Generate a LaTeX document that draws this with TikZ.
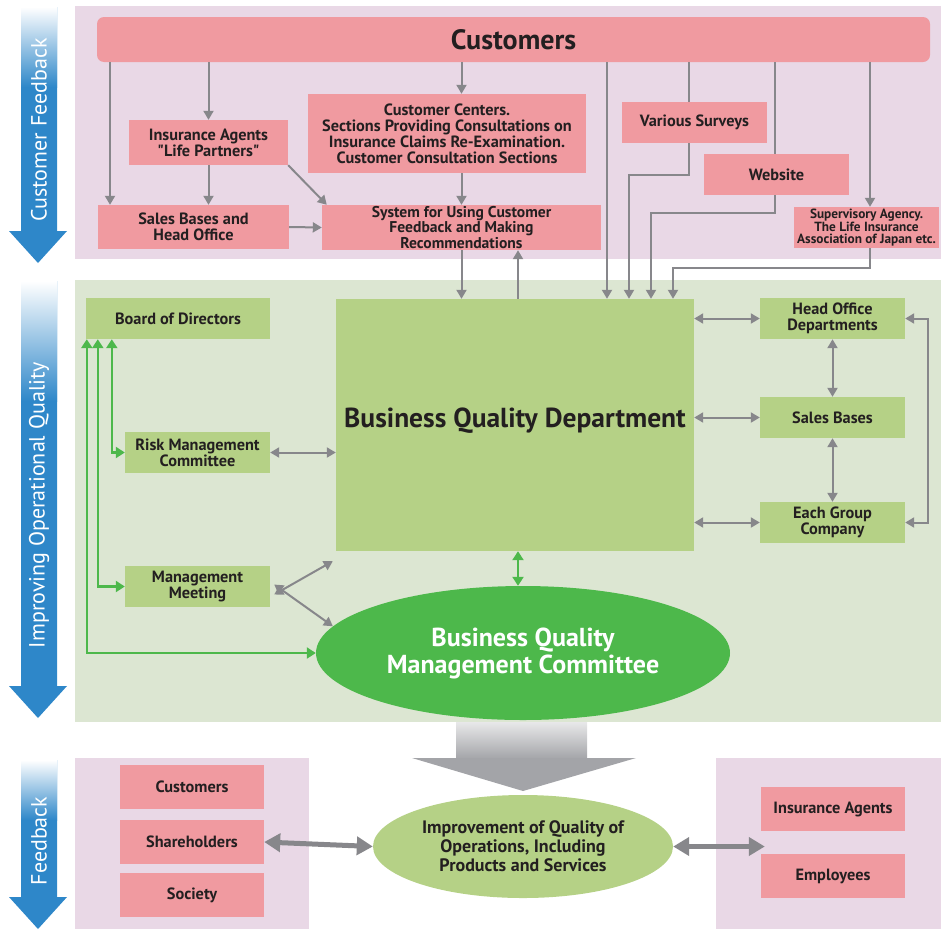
\documentclass[tikz,border=0pt]{standalone}
\usepackage{fontspec}
\setmainfont{PT Sans}
\usetikzlibrary{arrows.meta,calc,shapes.geometric}
\definecolor{cardpink}{RGB}{240,154,160}
\definecolor{bgpink}{RGB}{233,216,230}
\definecolor{bggreen}{RGB}{220,230,210}
\definecolor{cardgreen}{RGB}{181,209,134}
\definecolor{deepgreen}{RGB}{77,184,75}
\definecolor{flowgray}{RGB}{135,135,139}
\definecolor{headgray}{RGB}{163,164,168}
\definecolor{phaseblue}{RGB}{46,135,201}
\definecolor{inktext}{RGB}{35,31,32}
\tikzset{
  card/.style={
    inner sep=0pt,
    text=inktext,
    align=center,
    font=\bfseries\fontsize{16.3}{16}\selectfont
  },
  card-pink/.style={card, fill=cardpink},
  card-green/.style={card, fill=cardgreen},
  flow/.style={draw=flowgray, line width=2pt},
  flow-to/.style={flow, -{Triangle[width=10pt,length=9pt]}},
  flow-both/.style={flow,
    {Triangle[width=10pt,length=9pt]}-{Triangle[width=10pt,length=9pt]}},
  report-both/.style={draw=deepgreen, line width=2.4pt,
    {Triangle[width=11pt,length=9pt]}-{Triangle[width=11pt,length=9pt]}},
  link-both/.style={draw=flowgray, line width=5pt,
    {Triangle[width=18pt,length=16pt]}-{Triangle[width=18pt,length=16pt]}},
  phase/.style={text=white, rotate=90, font=\fontsize{22}{22}\selectfont}
}
\newcommand{\phasearrow}[3]{%
  \fill[phaseblue] (21,#1) -- (57,#1) -- (57,#2-32) -- (67,#2-32)
    -- (38,#2) -- (9,#2-32) -- (21,#2-32) -- cycle;
  \shade[top color=white, bottom color=phaseblue] (21,#1) rectangle (57,#1+#3);
}

\begin{document}
\begin{tikzpicture}[x=1pt, y=-1pt]
  \useasboundingbox (0,0) rectangle (941,929);
  \fill[bgpink] (75,6) rectangle (941,259);
  \fill[bggreen] (75,280) rectangle (941,722);
  \fill[bgpink] (75,758) rectangle (309,929);
  \fill[bgpink] (716,758) rectangle (941,929);

  \phasearrow{7}{263}{80}
  \phasearrow{281}{718}{120}
  \phasearrow{760}{929}{60}
  \node[phase] (phase-feedback) at (39,130) {Customer Feedback};
  \node[phase] (phase-quality) at (39,505) {Improving Operational Quality};
  \node[phase] (phase-return) at (39,841) {Feedback};

  % voices of the customer
  \node[card-pink, rounded corners=7, minimum width=833, minimum height=45,
    font=\bfseries\fontsize{28}{28}\selectfont] (cust) at (513.5,39.5) {Customers};
  \node[card-pink, minimum width=159, minimum height=45] (agents)
    at (208.5,142.5) {Insurance Agents\\\textquotedbl Life Partners\textquotedbl};
  \node[card-pink, minimum width=278, minimum height=79] (centers)
    at (447,133.5) {Customer Centers.\\Sections Providing Consultations on\\
    Insurance Claims Re-Examination.\\Customer Consultation Sections};
  \node[card-pink, minimum width=145, minimum height=41] (surveys)
    at (694.5,122.5) {Various Surveys};
  \node[card-pink, minimum width=145, minimum height=41] (website)
    at (776.5,174.5) {Website};
  \node[card-pink, minimum width=145, minimum height=41,
    font=\bfseries\fontsize{13.3}{12}\selectfont] (agency)
    at (866.5,227.5) {Supervisory Agency.\\The Life Insurance\\Association of Japan etc.};
  \node[card-pink, minimum width=191, minimum height=44] (branches)
    at (193.5,227) {Sales Bases and\\Head Office};
  \node[card-pink, minimum width=279, minimum height=45,
    font=\bfseries\fontsize{15.6}{14}\selectfont] (system)
    at (461.5,227.5) {System for Using Customer\\Feedback and Making\\Recommendations};

  % operations
  \node[card-green, minimum width=358, minimum height=252, text depth=14pt,
    font=\bfseries\fontsize{27.5}{27.5}\selectfont] (quality)
    at (515,425) {Business Quality Department};
  \node[card-green, minimum width=184, minimum height=41] (board)
    at (178,318.5) {Board of Directors};
  \node[card-green, minimum width=145, minimum height=41] (risk)
    at (197.5,452.5) {Risk Management\\Committee};
  \node[card-green, minimum width=145, minimum height=41] (meeting)
    at (197.5,586.5) {Management\\Meeting};
  \node[ellipse, fill=deepgreen, text=white, inner sep=0pt, align=center,
    minimum width=414, minimum height=134,
    font=\bfseries\fontsize{26}{27}\selectfont] (committee)
    at (523,653) {Business Quality\\Management Committee};
  \node[card-green, minimum width=145, minimum height=41] (hq)
    at (832.5,318.5) {Head Office\\Departments};
  \node[card-green, minimum width=145, minimum height=41] (sales)
    at (832.5,417.5) {Sales Bases};
  \node[card-green, minimum width=145, minimum height=41] (group)
    at (832.5,522.5) {Each Group\\Company};

  % results
  \shade[top color=headgray!25, bottom color=headgray] (456,722) rectangle (587,759);
  \fill[headgray] (412,758) -- (636,758) -- (523,791) -- cycle;
  \node[card-pink, minimum width=144, minimum height=44] (fb-cust)
    at (192,787) {Customers};
  \node[card-pink, minimum width=144, minimum height=44] (fb-share)
    at (192,842) {Shareholders};
  \node[card-pink, minimum width=144, minimum height=44] (fb-soc)
    at (192,895) {Society};
  \node[ellipse, fill=cardgreen, text=inktext, inner sep=0pt, align=center,
    minimum width=300, minimum height=103,
    font=\bfseries\fontsize{18}{19}\selectfont] (improve)
    at (523,846.5) {Improvement of Quality of\\Operations, Including\\Products and Services};
  \node[card-pink, minimum width=144, minimum height=44] (fb-agents)
    at (833,809) {Insurance Agents};
  \node[card-pink, minimum width=144, minimum height=44] (fb-staff)
    at (833,876) {Employees};

  \draw[flow-to] (110,0 |- cust.south) -- (110,0 |- branches.north);
  \draw[flow-to] (agents.north |- cust.south) -- (agents.north);
  \draw[flow-to] (system.north |- cust.south) -- (system.north |- centers.north);
  \draw[flow-to] (centers.south -| system.north) -- (system.north);
  \draw[flow-to] (agents.south) -- (branches.north -| agents.south);
  \draw[flow-to] (agents.south east) -- ([xshift=5]system.north west);
  \draw[flow-to] (branches.east) -- (system.west);
  \draw[flow-to] (system.south) -- (system.south |- quality.north);
  \draw[flow-to] (518,0 |- quality.north) -- (518,0 |- system.south);
  \draw[flow-to] (607,0 |- cust.south) -- (607,0 |- quality.north);
  \draw[flow] (689,0 |- cust.south) -- (689,0 |- surveys.north);
  \draw[flow-to] (689,0 |- surveys.south) -- (689,175) -| (629,0 |- quality.north);
  \draw[flow] (775,0 |- cust.south) -- (775,0 |- website.north);
  \draw[flow-to] (775,0 |- website.south) -- (775,213) -| (651,0 |- quality.north);
  \draw[flow-to] (870,0 |- cust.south) -- (870,0 |- agency.north);
  \draw[flow-to] (870,0 |- agency.south) -- (870,268) -| (673,0 |- quality.north);

  \draw[report-both] ([xshift=26]board.south west) |- (risk.west);
  \draw[report-both] ([xshift=12]board.south west) |- (meeting.west);
  \draw[report-both] ([xshift=1]board.south west) |- (committee.west);
  \draw[report-both] (518,0 |- quality.south) -- (518,0 |- committee.north);

  \draw[flow-both] (risk.east) -- (quality.west |- risk.east);
  \draw[flow-both] ([xshift=4,yshift=-8]meeting.east) -- ([xshift=-3,yshift=-10]quality.south west);
  \draw[flow-both] ([xshift=4,yshift=2]meeting.east) -- (committee.172);
  \draw[flow-both] (quality.east |- hq) -- (hq.west);
  \draw[flow-both] (quality.east |- sales) -- (sales.west);
  \draw[flow-both] (quality.east |- group) -- (group.west);
  \draw[flow-both] (hq.south) -- (sales.north);
  \draw[flow-both] (sales.south) -- (group.north);
  \draw[flow-both] (hq.east) -- ++(23,0) |- (group.east);

  \draw[link-both] (fb-share.east) -- (improve.west);
  \draw[link-both] (improve.east) -- ([xshift=4]fb-agents.west |- improve.east);
\end{tikzpicture}
\end{document}
